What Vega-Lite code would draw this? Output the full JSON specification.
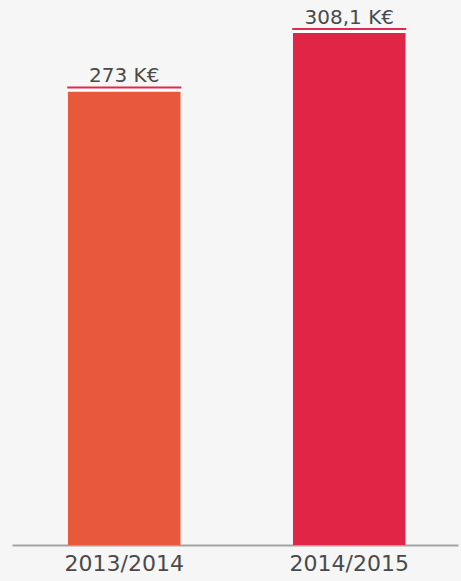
{
  "$schema": "https://vega.github.io/schema/vega-lite/v6.json",
  "width": 446,
  "height": 545,
  "autosize": {"type": "none"},
  "padding": {"left": 12, "top": 0, "right": 3, "bottom": 36},
  "background": "#f6f6f6",
  "config": {"view": {"stroke": null}},
  "data": {
    "values": [
      {"season": "2013/2014", "value": 273, "label": "273 K€", "color": "#e8583d"},
      {"season": "2014/2015", "value": 308.1, "label": "308,1 K€", "color": "#e12546"}
    ]
  },
  "encoding": {
    "x": {
      "field": "season",
      "type": "nominal",
      "sort": null,
      "scale": {"paddingInner": 0.5, "paddingOuter": 0.241, "align": 0.516},
      "axis": {
        "title": null,
        "labelAngle": 0,
        "ticks": false,
        "tickSize": 0,
        "labelPadding": 25,
        "labelBaseline": "alphabetic",
        "labelFont": "DejaVu Sans",
        "labelFontSize": 22,
        "labelColor": "#4a4a4a",
        "domainColor": "#a3a3a3",
        "domainWidth": 2,
        "grid": false
      }
    },
    "y": {
      "field": "value",
      "type": "quantitative",
      "scale": {"domain": [0, 328], "nice": false},
      "axis": null
    }
  },
  "layer": [
    {
      "mark": {"type": "bar"},
      "encoding": {"color": {"field": "color", "type": "nominal", "scale": null, "legend": null}}
    },
    {
      "mark": {"type": "tick", "color": "#ffffff", "thickness": 3, "size": 114, "yOffset": -1.5, "opacity": 1}
    },
    {
      "mark": {"type": "tick", "color": "#e2284c", "thickness": 2, "size": 114, "yOffset": -4, "opacity": 1}
    },
    {
      "mark": {"type": "text", "baseline": "alphabetic", "dy": -9, "font": "DejaVu Sans", "fontSize": 20, "color": "#4a4a4a"},
      "encoding": {"text": {"field": "label"}}
    }
  ]
}
